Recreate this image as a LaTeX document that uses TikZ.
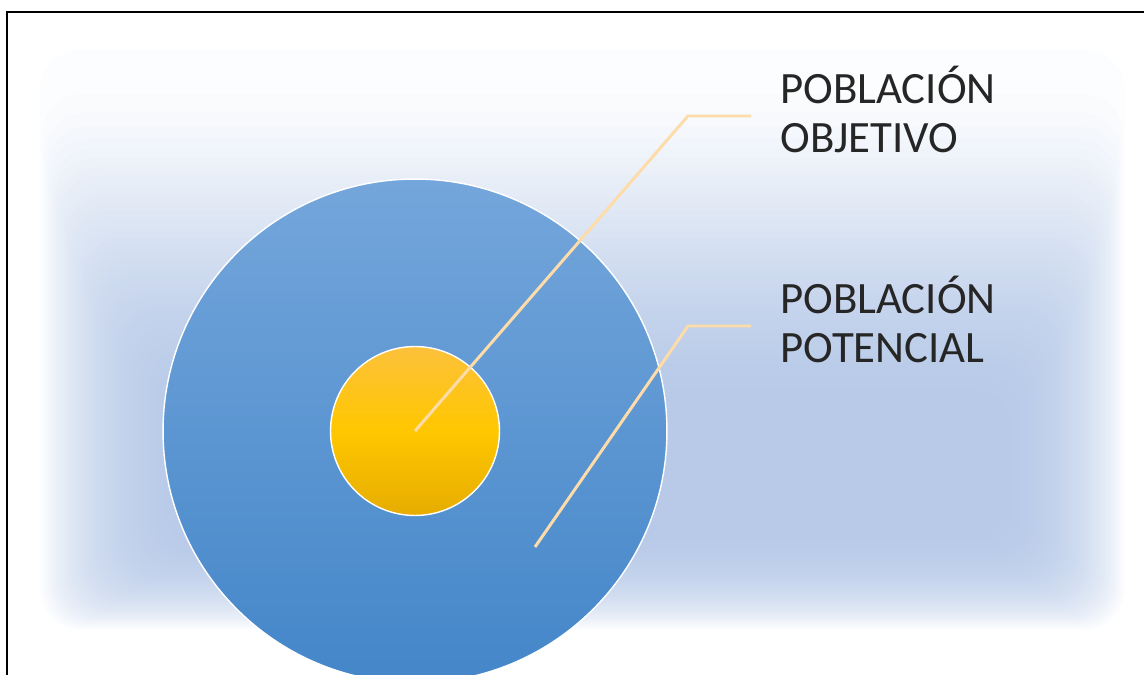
\documentclass[tikz,border=0pt]{standalone}
\usepackage{fontspec}
\setmainfont{Carlito}
\usetikzlibrary{positioning}
\definecolor{glowColor}{HTML}{AEC3E5}
\definecolor{potTop}{HTML}{74A6DB}
\definecolor{potBot}{HTML}{4486C9}
\definecolor{objTop}{HTML}{FCC13A}
\definecolor{objMid}{HTML}{FFC700}
\definecolor{objBot}{HTML}{E6AC00}
\definecolor{leadColor}{HTML}{FDDCAA}
\definecolor{txtColor}{HTML}{262626}
\tikzset{ring/.style={circle, draw=white, line width=0.8pt, inner sep=0pt}}
\tikzset{leader/.style={draw=leadColor, line width=1.7pt}}
\tikzset{poblabel/.style={align=left, inner sep=0pt, text=txtColor, font=\fontsize{25.5}{28}\selectfont, yshift=0.13cm}}

\begin{document}
\begin{tikzpicture}[x=0.02cm, y=-0.02cm, node distance=0.58cm]
	\useasboundingbox (0,0) rectangle (1144,675);
	% soft glow behind the circles
	\foreach \i in {0,...,59}{
		\pgfmathsetmacro{\gl}{40+2.3*\i}
		\pgfmathsetmacro{\gr}{1125-1.9*\i}
		\pgfmathsetmacro{\gt}{50+340*sqrt(\i/59)}
		\pgfmathsetmacro{\gb}{630-1.5*\i}
		\fill[glowColor, fill opacity=0.035, rounded corners=0.8cm] (\gl,\gt) rectangle (\gr,\gb);
	}
	\draw[line width=1.1pt] (1144,12) -- (7,12) -- (7,675);
	\node[ring, minimum size=10.08cm, top color=potTop, bottom color=potBot] at (415,431) (potencial) {};
	\node[ring, minimum size=3.38cm, top color=objTop, bottom color=objBot, middle color=objMid] at (415,431) (objetivo) {};
	\coordinate (objknee) at (688,116);
	\coordinate (objend) at (751,116);
	\coordinate (potpt) at (535,547);
	\coordinate (potknee) at (688,326);
	\coordinate (potend) at (751,326);
	\node[poblabel, right=of objend] (lblobj) {POBLACIÓN\\OBJETIVO};
	\node[poblabel, right=of potend] (lblpot) {POBLACIÓN\\POTENCIAL};
	\draw[leader] (objetivo.center) -- (objknee) -- (objend);
	\draw[leader] (potpt) -- (potknee) -- (potend);
\end{tikzpicture}
\end{document}
